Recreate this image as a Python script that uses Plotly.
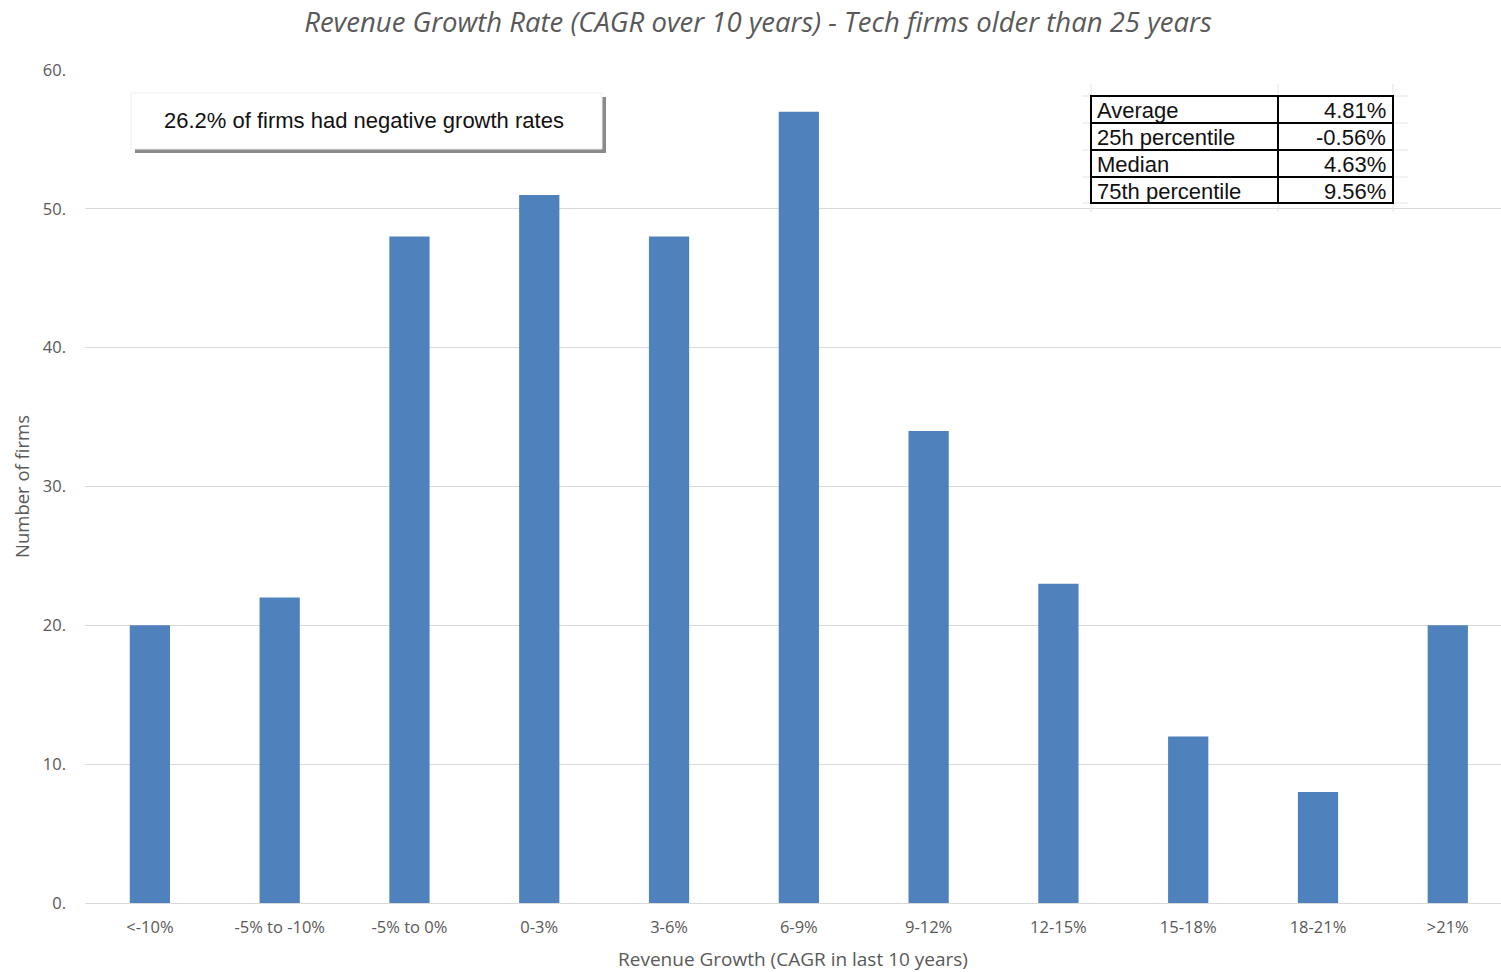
import plotly.graph_objects as go

# Distribution of 10-year revenue CAGR for tech firms older than 25 years
categories = ["<-10%", "-5% to -10%", "-5% to 0%", "0-3%", "3-6%", "6-9%",
              "9-12%", "12-15%", "15-18%", "18-21%", ">21%"]
firm_counts = [20, 22, 48, 51, 48, 57, 34, 23, 12, 8, 20]

y_tick_values = [0, 10, 20, 30, 40, 50, 60]
y_tick_labels = ["0.", "10.", "20.", "30.", "40.", "50.", "60."]

stat_names = ["Average", "25h percentile", "Median", "75th percentile"]
stat_values = ["4.81%", "-0.56%", "4.63%", "9.56%"]

W, H = 1501, 972
ML, MR, MT, MB = 85, 0, 70, 69
PW = W - ML - MR
PH = H - MT - MB


def px(x):
    return (x - ML) / PW


def py(y):
    return (H - MB - y) / PH


fig = go.Figure()
fig.add_trace(go.Bar(
    x=list(range(len(categories))),
    y=firm_counts,
    marker=dict(color="#4f81bd", line=dict(width=0)),
    width=0.31,
    hoverinfo="x+y",
))

shapes = []
# callout box with drop shadow
shapes.append(dict(type="rect", xref="paper", yref="paper",
                   x0=px(135), x1=px(606), y0=py(153), y1=py(97),
                   fillcolor="#8a8a8a", line=dict(width=0), layer="above"))
shapes.append(dict(type="rect", xref="paper", yref="paper",
                   x0=px(131), x1=px(602), y0=py(149), y1=py(93),
                   fillcolor="white", line=dict(color="#f0f0f0", width=1), layer="above"))

# summary table
tx0, tx1, tx2 = 1091, 1278, 1393
row_y = [96, 123, 150, 177, 203]
# faint spreadsheet grid around the table
for gx in (tx0, tx1, tx2):
    shapes.append(dict(type="line", xref="paper", yref="paper",
                       x0=px(gx), x1=px(gx), y0=py(84), y1=py(212),
                       line=dict(color="#e3e3e3", width=1), layer="above"))
for gy in row_y:
    shapes.append(dict(type="line", xref="paper", yref="paper",
                       x0=px(1082), x1=px(1408), y0=py(gy), y1=py(gy),
                       line=dict(color="#e3e3e3", width=1), layer="above"))
shapes.append(dict(type="rect", xref="paper", yref="paper",
                   x0=px(tx0), x1=px(tx2), y0=py(row_y[-1]), y1=py(row_y[0]),
                   fillcolor="white", line=dict(color="black", width=2), layer="above"))
shapes.append(dict(type="line", xref="paper", yref="paper",
                   x0=px(tx1), x1=px(tx1), y0=py(row_y[-1]), y1=py(row_y[0]),
                   line=dict(color="black", width=2), layer="above"))
for gy in row_y[1:-1]:
    shapes.append(dict(type="line", xref="paper", yref="paper",
                       x0=px(tx0), x1=px(tx2), y0=py(gy), y1=py(gy),
                       line=dict(color="black", width=2), layer="above"))

annotations = [
    dict(text="26.2% of firms had negative growth rates", xref="paper", yref="paper",
         x=px(364), y=py(121), xanchor="center", yanchor="middle", showarrow=False,
         font=dict(family="Liberation Sans, Arial", size=22, color="#111111")),
]
for i, (name, val) in enumerate(zip(stat_names, stat_values)):
    cy = (row_y[i] + row_y[i + 1]) / 2 + 1
    annotations.append(dict(text=name, xref="paper", yref="paper",
                            x=px(tx0 + 4), y=py(cy), xanchor="left", yanchor="middle",
                            showarrow=False,
                            font=dict(family="Liberation Sans, Arial", size=22, color="#111111")))
    annotations.append(dict(text=val, xref="paper", yref="paper",
                            x=px(tx2 - 5), y=py(cy), xanchor="right", yanchor="middle",
                            showarrow=False,
                            font=dict(family="Liberation Sans, Arial", size=22, color="#111111")))

fig.update_layout(
    width=W, height=H,
    margin=dict(l=ML, r=MR, t=MT, b=MB),
    paper_bgcolor="white", plot_bgcolor="white",
    showlegend=False,
    title=dict(text="<i>Revenue Growth Rate (CAGR over 10 years) - Tech firms older than 25 years</i>",
               xref="container", x=758 / W, xanchor="center",
               yref="container", y=1 - 22 / H, yanchor="middle",
               font=dict(family="Open Sans", size=27.5, color="#595959")),
    xaxis=dict(
        tickmode="array", tickvals=list(range(len(categories))), ticktext=categories,
        range=[-0.5, 10.41], showgrid=False, zeroline=False, showline=False,
        ticks="", ticklabelstandoff=12,
        tickfont=dict(family="Open Sans", size=16.5, color="#595959"),
        title=dict(text="Revenue Growth (CAGR in last 10 years)", standoff=16,
                   font=dict(family="Open Sans", size=19, color="#595959")),
    ),
    yaxis=dict(
        range=[0, 60], tickmode="array", tickvals=y_tick_values, ticktext=y_tick_labels,
        showgrid=True, gridcolor="#d9d9d9", gridwidth=1, zeroline=True,
        zerolinecolor="#d9d9d9", zerolinewidth=1, ticks="", ticklen=0,
        ticklabelstandoff=18,
        tickfont=dict(family="Open Sans", size=16.5, color="#595959"),
        title=dict(text="Number of firms", standoff=8,
                   font=dict(family="Open Sans", size=18.5, color="#595959")),
    ),
    shapes=shapes,
    annotations=annotations,
)

fig.write_html("out.html")
